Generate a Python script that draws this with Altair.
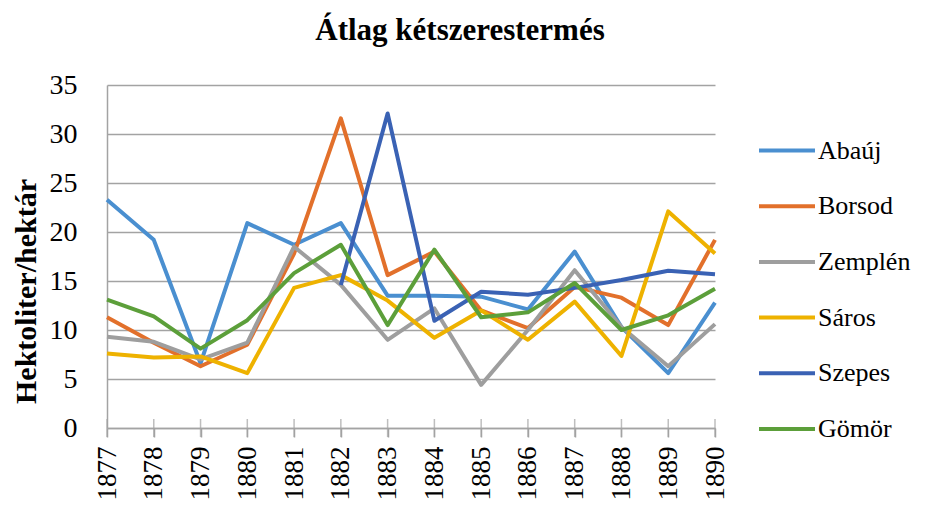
import altair as alt
import pandas as pd

years = list(range(1877, 1891))
series_names = ["Abaúj", "Borsod", "Zemplén", "Sáros", "Szepes", "Gömör"]
series_colors = ["#4A8FD0", "#E2702B", "#9E9E9E", "#EEB200", "#3A62B4", "#5C9F3A"]

abauj = [23.3, 19.2, 6.6, 20.9, 18.7, 20.9, 13.5, 13.5, 13.4, 12.1, 18.0, 10.3, 5.6, 12.8]
borsod = [11.3, 8.7, 6.3, 8.5, 17.8, 31.6, 15.6, 18.0, 12.0, 10.2, 14.4, 13.3, 10.5, 19.2]
zemplen = [9.3, 8.8, 7.0, 8.7, 18.5, 14.6, 9.0, 12.2, 4.4, 10.0, 16.1, 10.3, 6.3, 10.6]
saros = [7.6, 7.2, 7.3, 5.6, 14.3, 15.6, 13.0, 9.2, 12.0, 9.0, 12.9, 7.35, 22.1, 17.8]
szepes = [None, None, None, None, None, 14.6, 32.1, 10.95, 13.9, 13.6, 14.3, 15.1, 16.05, 15.7]
gomor = [13.1, 11.4, 8.1, 11.0, 15.8, 18.7, 10.5, 18.2, 11.3, 11.8, 14.8, 10.0, 11.5, 14.2]

all_series = [abauj, borsod, zemplen, saros, szepes, gomor]
rows = []
for name, vals in zip(series_names, all_series):
    for y, v in zip(years, vals):
        if v is not None:
            rows.append({"year": y, "value": v, "megye": name})
df = pd.DataFrame(rows)
ticks_df = pd.DataFrame({"year": years})

FONT = "Liberation Serif"
GRID = "#A3A3A3"

x_enc = alt.X(
    "year:O",
    scale=alt.Scale(type="point", padding=0),
    axis=alt.Axis(
        title=None, labelAngle=-90, labelFont=FONT, labelFontSize=27,
        labelColor="#000000", labelPadding=9, tickSize=9, tickColor=GRID,
        tickWidth=1.5, domainColor=GRID, domainWidth=1.5, grid=False,
    ),
)

lines = alt.Chart(df).mark_line(strokeWidth=4, strokeJoin="round").encode(
    x=x_enc,
    y=alt.Y(
        "value:Q",
        scale=alt.Scale(domain=[0, 35], nice=False),
        axis=alt.Axis(
            title="Hektoliter/hektár", titleFont=FONT, titleFontSize=30,
            titleFontWeight="bold", titleColor="#000000", titleAngle=-90,
            titleBaseline="alphabetic", titleAlign="center", titleX=-72, titleY=206,
            values=[0, 5, 10, 15, 20, 25, 30, 35], labelFont=FONT, labelFontSize=28,
            labelColor="#000000", labelPadding=30, ticks=False, domain=True,
            domainColor=GRID, domainWidth=1.5, grid=True, gridColor=GRID, gridWidth=1.5,
        ),
    ),
    color=alt.Color(
        "megye:N",
        scale=alt.Scale(domain=series_names, range=series_colors),
        legend=alt.Legend(
            title=None, orient="none", legendX=650, legendY=35.5, padding=0,
            symbolType="stroke", symbolSize=3136, symbolStrokeWidth=4,
            labelFont=FONT, labelFontSize=26, labelColor="#000000",
            labelOffset=1, rowPadding=12.7,
        ),
    ),
)

upper_ticks = alt.Chart(ticks_df).mark_tick(
    orient="vertical", size=18, thickness=1.5, color=GRID
).encode(x=alt.X("year:O"), y=alt.datum(0))

chart = alt.layer(upper_ticks, lines).properties(
    width=608,
    height=343,
    autosize=alt.AutoSizeParams(type="none"),
    padding={"left": 99, "top": 77, "right": 208, "bottom": 73},
    title=alt.TitleParams(
        "Átlag kétszerestermés", font=FONT, fontSize=31, fontWeight="bold",
        color="#000000", anchor="middle", frame="group", dx=49, offset=24,
    ),
).configure_view(stroke=None)

chart.save("out.html", embed_options={"renderer": "svg", "actions": False})
